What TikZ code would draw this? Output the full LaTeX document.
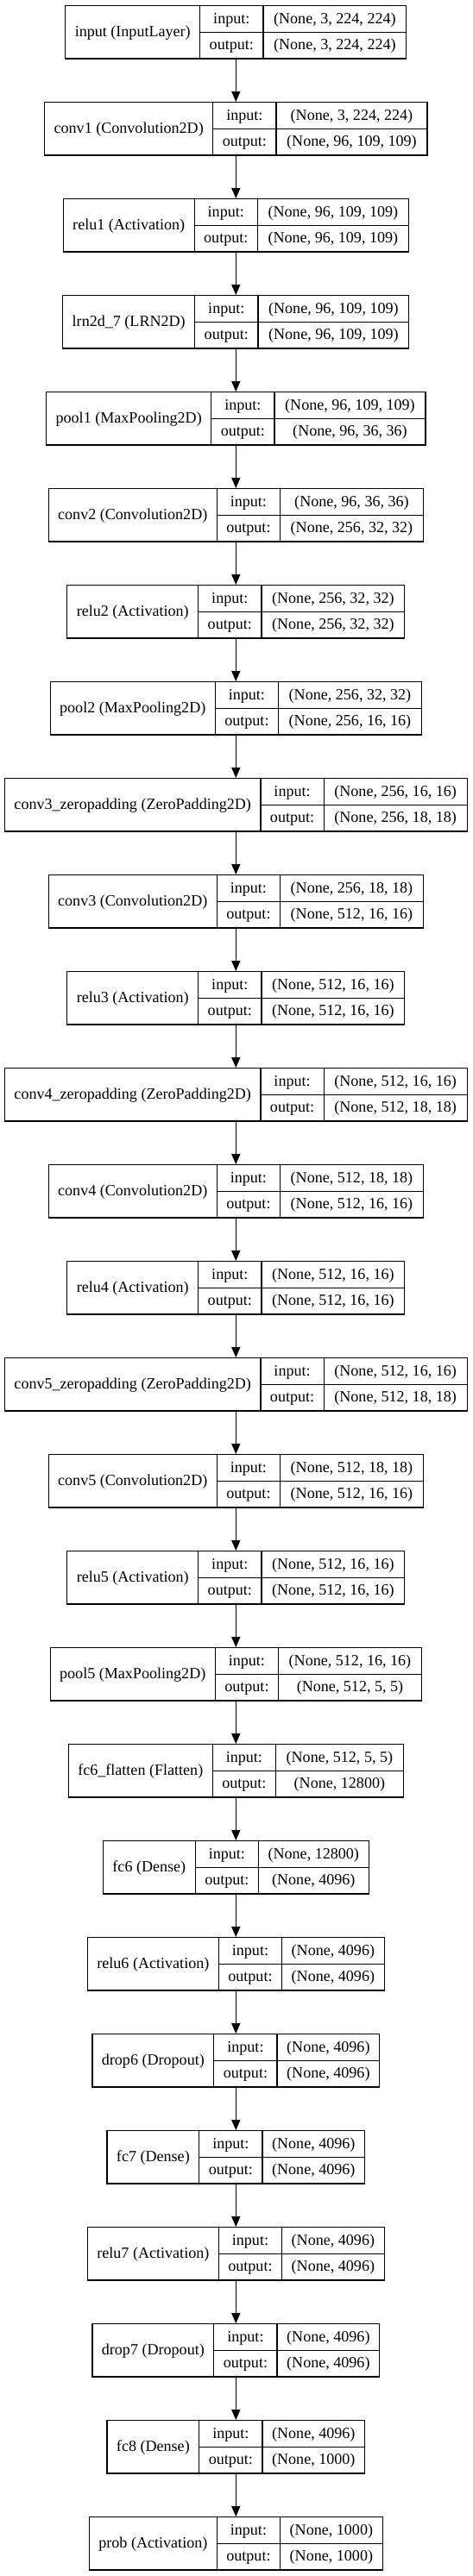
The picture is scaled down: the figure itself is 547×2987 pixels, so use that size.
\documentclass[tikz,border=0pt]{standalone}
\usepackage{fontspec}
\setmainfont{Liberation Serif}
\usetikzlibrary{arrows.meta}
\newlength\wn \newlength\wm \newlength\wv \newlength\wtmp \newlength\wt
\newlength\xl \newlength\xa \newlength\xb \newlength\xr
\newlength\yt \newlength\yb \newlength\ym
\newlength\xn \newlength\xm \newlength\xv
\newlength\ya \newlength\ynm \newlength\yo
\newcommand\lfont{\fontsize{18.07pt}{21pt}\selectfont}
\makeatletter
\newcommand\measure[2]{%
  \setbox0=\hbox{\spaceskip=0pt\xspaceskip=0pt\fontsize{18.07pt}{21pt}%
    \ifdefined\pgf@selectfontorig\pgf@selectfontorig\else\selectfont\fi #2}%
  #1=\wd0\relax}
\makeatother
\tikzset{
  boxline/.style={line width=1.2pt, draw=black},
  layerbox/.style={boxline, rectangle, inner sep=0pt, minimum height=61.3pt},
  celltext/.style={anchor=base, inner sep=0pt, font=\lfont},
  arr/.style={line width=1.2pt, -{Triangle[length=12pt,width=10pt]}},
}
\newcommand\mylayer[5]{%
  \measure\wn{#3}\advance\wn by 22pt
  \measure\wm{output:}\advance\wm by 22pt
  \measure\wv{#4}\measure\wtmp{#5}%
  \ifdim\wtmp>\wv \wv=\wtmp\fi
  \ifdim\wv>115pt \advance\wv by 2.1pt\fi
  \advance\wv by 22.3pt
  \wt=\dimexpr\wn+\wm+\wv\relax
  \xl=\dimexpr 273.3pt-\wt/2\relax
  \xa=\dimexpr\xl+\wn\relax
  \xb=\dimexpr\xa+\wm\relax
  \xr=\dimexpr\xb+\wv\relax
  \xn=\dimexpr(\xl+\xa)/2\relax
  \xm=\dimexpr(\xa+\xb)/2\relax
  \xv=\dimexpr(\xb+\xr)/2\relax
  \yt=\dimexpr -6.7pt-112pt*#2\relax
  \yb=\dimexpr\yt-61.3pt\relax
  \ym=\dimexpr\yt-30.65pt\relax
  \ya=\dimexpr\yt-20.5pt\relax
  \ynm=\dimexpr\yt-35.5pt\relax
  \yo=\dimexpr\yt-51.2pt\relax
  \node[layerbox, minimum width=\the\wt] (#1) at (273.3pt,\the\ym) {};
  \draw[boxline] (\the\xa,\the\yt) -- (\the\xa,\the\yb);
  \draw[boxline] (\the\xb,\the\yt) -- (\the\xb,\the\yb);
  \draw[boxline] (\the\xa,\the\ym) -- (\the\xr,\the\ym);
  \node[celltext] (#1-name) at (\the\xn,\the\ynm) {#3};
  \node[celltext] (#1-inl) at (\the\xm,\the\ya) {input:};
  \node[celltext] (#1-outl) at (\the\xm,\the\yo) {output:};
  \node[celltext] (#1-inv) at (\the\xv,\the\ya) {#4};
  \node[celltext] (#1-outv) at (\the\xv,\the\yo) {#5};
}
\begin{document}
\begin{tikzpicture}
\useasboundingbox (0pt,0pt) rectangle (547pt,-2987pt);
\mylayer{input}{0}{input (InputLayer)}{(None, 3, 224, 224)}{(None, 3, 224, 224)}
\mylayer{conva}{1}{conv1 (Convolution2D)}{(None, 3, 224, 224)}{(None, 96, 109, 109)}
\mylayer{relua}{2}{relu1 (Activation)}{(None, 96, 109, 109)}{(None, 96, 109, 109)}
\mylayer{lrn}{3}{lrn2d\_7 (LRN2D)}{(None, 96, 109, 109)}{(None, 96, 109, 109)}
\mylayer{poola}{4}{pool1 (MaxPooling2D)}{(None, 96, 109, 109)}{(None, 96, 36, 36)}
\mylayer{convb}{5}{conv2 (Convolution2D)}{(None, 96, 36, 36)}{(None, 256, 32, 32)}
\mylayer{relub}{6}{relu2 (Activation)}{(None, 256, 32, 32)}{(None, 256, 32, 32)}
\mylayer{poolb}{7}{pool2 (MaxPooling2D)}{(None, 256, 32, 32)}{(None, 256, 16, 16)}
\mylayer{zpc}{8}{conv3\_zeropadding (ZeroPadding2D)}{(None, 256, 16, 16)}{(None, 256, 18, 18)}
\mylayer{convc}{9}{conv3 (Convolution2D)}{(None, 256, 18, 18)}{(None, 512, 16, 16)}
\mylayer{reluc}{10}{relu3 (Activation)}{(None, 512, 16, 16)}{(None, 512, 16, 16)}
\mylayer{zpd}{11}{conv4\_zeropadding (ZeroPadding2D)}{(None, 512, 16, 16)}{(None, 512, 18, 18)}
\mylayer{convd}{12}{conv4 (Convolution2D)}{(None, 512, 18, 18)}{(None, 512, 16, 16)}
\mylayer{relud}{13}{relu4 (Activation)}{(None, 512, 16, 16)}{(None, 512, 16, 16)}
\mylayer{zpe}{14}{conv5\_zeropadding (ZeroPadding2D)}{(None, 512, 16, 16)}{(None, 512, 18, 18)}
\mylayer{conve}{15}{conv5 (Convolution2D)}{(None, 512, 18, 18)}{(None, 512, 16, 16)}
\mylayer{relue}{16}{relu5 (Activation)}{(None, 512, 16, 16)}{(None, 512, 16, 16)}
\mylayer{poole}{17}{pool5 (MaxPooling2D)}{(None, 512, 16, 16)}{(None, 512, 5, 5)}
\mylayer{flat}{18}{fc6\_flatten (Flatten)}{(None, 512, 5, 5)}{(None, 12800)}
\mylayer{fcf}{19}{fc6 (Dense)}{(None, 12800)}{(None, 4096)}
\mylayer{reluf}{20}{relu6 (Activation)}{(None, 4096)}{(None, 4096)}
\mylayer{dropf}{21}{drop6 (Dropout)}{(None, 4096)}{(None, 4096)}
\mylayer{fcg}{22}{fc7 (Dense)}{(None, 4096)}{(None, 4096)}
\mylayer{relug}{23}{relu7 (Activation)}{(None, 4096)}{(None, 4096)}
\mylayer{dropg}{24}{drop7 (Dropout)}{(None, 4096)}{(None, 4096)}
\mylayer{fch}{25}{fc8 (Dense)}{(None, 4096)}{(None, 1000)}
\mylayer{prob}{26}{prob (Activation)}{(None, 1000)}{(None, 1000)}
\foreach \a/\b in {input/conva, conva/relua, relua/lrn, lrn/poola, poola/convb,
  convb/relub, relub/poolb, poolb/zpc, zpc/convc, convc/reluc, reluc/zpd,
  zpd/convd, convd/relud, relud/zpe, zpe/conve, conve/relue, relue/poole,
  poole/flat, flat/fcf, fcf/reluf, reluf/dropf, dropf/fcg, fcg/relug,
  relug/dropg, dropg/fch, fch/prob}
  \draw[arr] (\a.south) -- (\b.north);
\end{tikzpicture}
\end{document}
